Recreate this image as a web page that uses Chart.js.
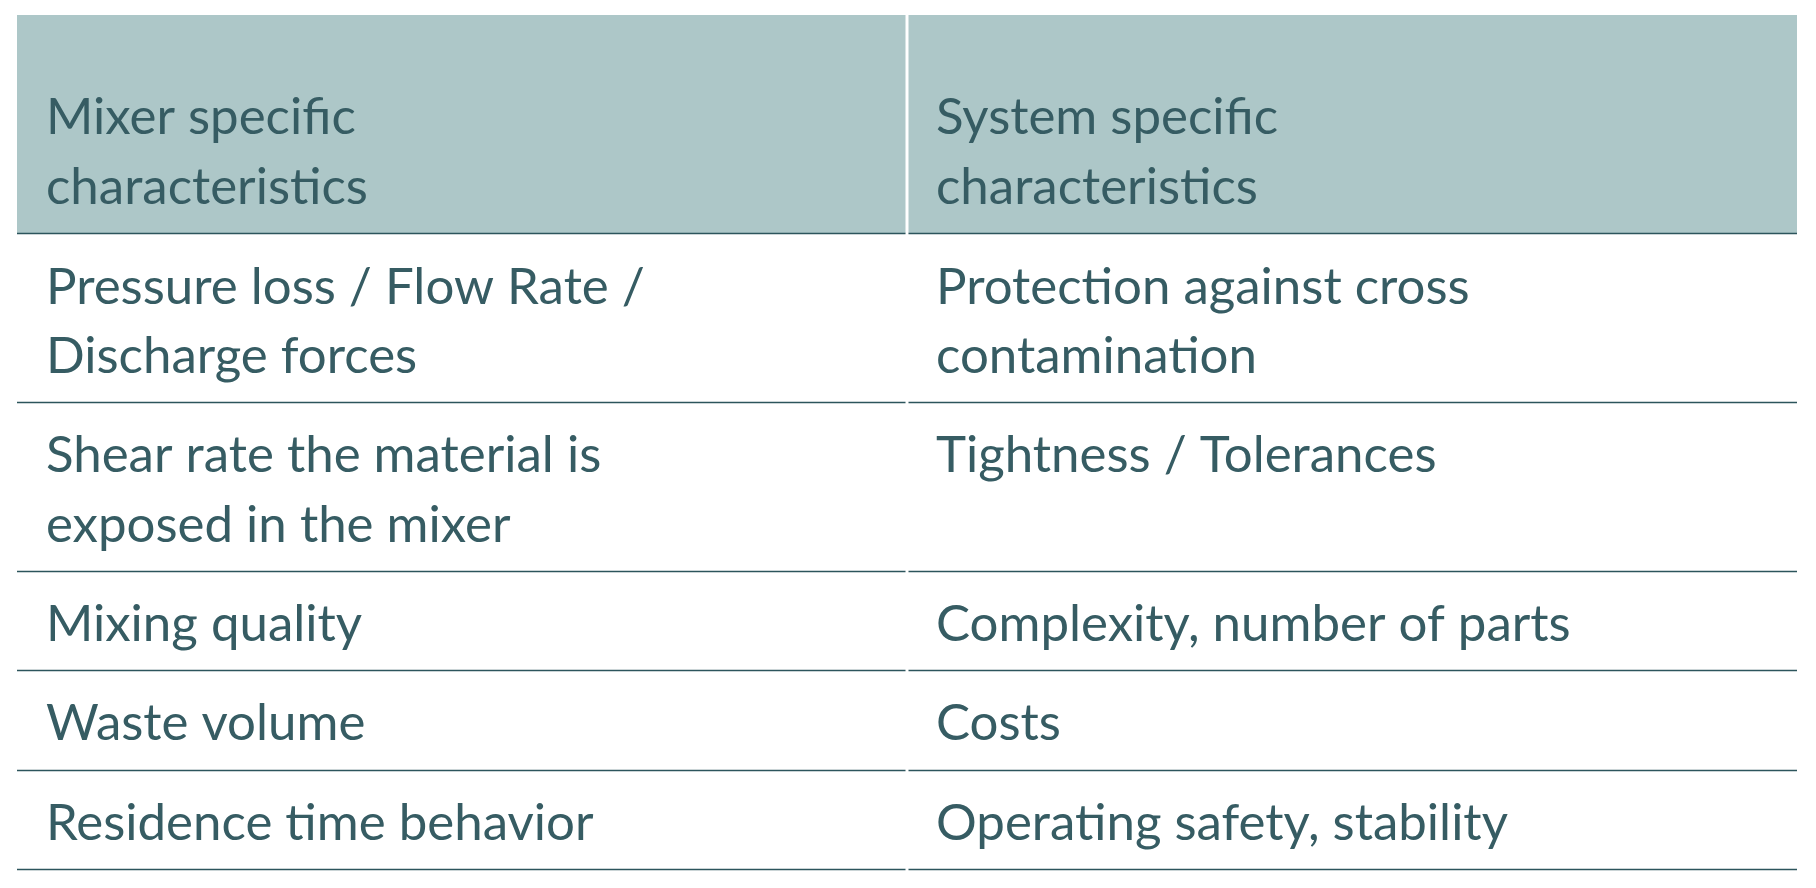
<!DOCTYPE html>
<html><head><meta charset="utf-8">
<script src="https://cdn.jsdelivr.net/npm/chart.js@4.4.0/dist/chart.umd.min.js"></script>
<style>html,body{margin:0;padding:0;background:#fff}#w{width:1816px;height:888px}</style>
</head><body><div id="w"><canvas id="c"></canvas></div>
<script>
const headers = ["Mixer specific\ncharacteristics", "System specific\ncharacteristics"];
const mixerCol = ["Pressure loss / Flow Rate /\nDischarge forces", "Shear rate the material is\nexposed in the mixer", "Mixing quality", "Waste volume", "Residence time behavior"];
const systemCol = ["Protection against cross\ncontamination", "Tightness / Tolerances", "Complexity, number of parts", "Costs", "Operating safety, stability"];

const HEADER_W = 2.2;
const rows = mixerCol.map((m,i)=>Math.max(m.split("\n").length, systemCol[i].split("\n").length));
const weights = [HEADER_W, ...rows.map(n=>n===2?1.7:1)];
const bounds = [0]; weights.forEach(w=>bounds.push(bounds[bounds.length-1]+w));
const total = bounds[bounds.length-1];

const tablePlugin = {
  id:'table',
  afterDraw(chart){
    const ctx = chart.ctx, y = chart.scales.y, x = chart.scales.x;
    const xl = x.getPixelForValue(0), xm = x.getPixelForValue(1), xr = x.getPixelForValue(2);
    const lh = 69.5, txt = '#365c63', line = '#2c555c';
    ctx.save();
    const yt = y.getPixelForValue(bounds[0]), yh = y.getPixelForValue(bounds[1]);
    ctx.fillStyle = '#adc7c8';
    ctx.fillRect(xl, yt, xm-xl-1.5, yh-yt);
    ctx.fillRect(xm+1.5, yt, xr-xm-1.5, yh-yt);
    ctx.font = '51px Lato';
    ctx.textBaseline = 'middle';
    ctx.fillStyle = txt;
    const pad = 29;
    headers.forEach((h,c)=>{
      const ls = h.split("\n"); const x0 = (c===0?xl:xm)+pad;
      ls.forEach((s,k)=>ctx.fillText(s, x0, yh-46-(ls.length-1-k)*lh));
    });
    ctx.strokeStyle = line; ctx.lineWidth = 1.6;
    for(let r=0;r<rows.length;r++){
      const t = y.getPixelForValue(bounds[r+1]), b = y.getPixelForValue(bounds[r+2]);
      const cy = (t+b)/2 + 4;
      [mixerCol[r], systemCol[r]].forEach((s,c)=>{
        const ls = s.split("\n"); const x0=(c===0?xl:xm)+pad;
        ls.forEach((q,k)=>ctx.fillText(q, x0, cy + (k-(rows[r]-1)/2)*lh));
      });
    }
    for(let r=1;r<bounds.length;r++){
      const yy = Math.round(y.getPixelForValue(bounds[r]))+0.5;
      ctx.beginPath(); ctx.moveTo(xl,yy); ctx.lineTo(xm-1.5,yy); ctx.stroke();
      ctx.beginPath(); ctx.moveTo(xm+1.5,yy); ctx.lineTo(xr,yy); ctx.stroke();
    }
    ctx.restore();
  }
};

new Chart(document.getElementById('c'), {
  type:'scatter',
  data:{datasets:[]},
  options:{
    responsive:true, maintainAspectRatio:false, animation:false,
    layout:{padding:{left:17,right:19,top:15,bottom:19}},
    plugins:{legend:{display:false},tooltip:{enabled:false}},
    scales:{
      x:{type:'linear',min:0,max:2,display:false},
      y:{type:'linear',min:0,max:total,reverse:true,display:false}
    }
  },
  plugins:[tablePlugin]
});
</script></body></html>
